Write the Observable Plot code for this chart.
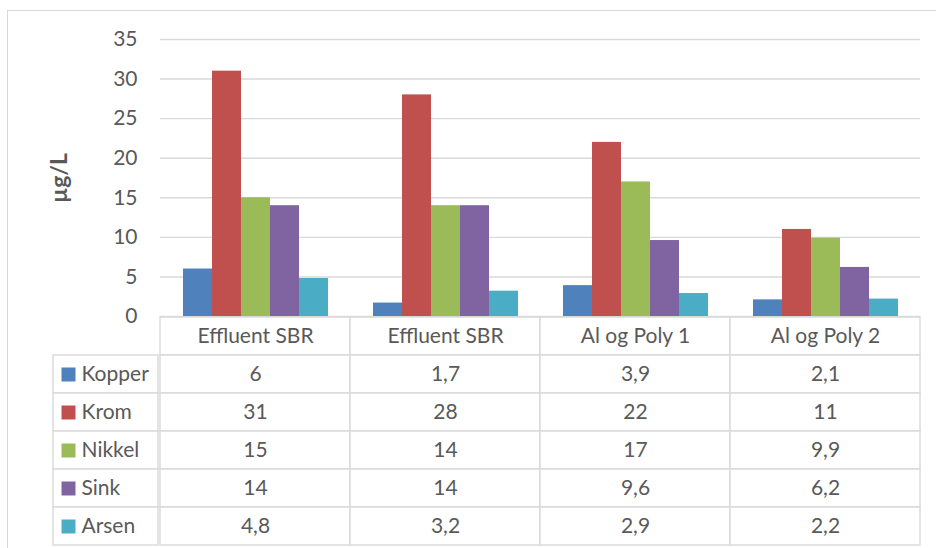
<!DOCTYPE html>
<html><head><meta charset="utf-8">
<script src="https://cdn.jsdelivr.net/npm/d3@7"></script>
<script src="https://cdn.jsdelivr.net/npm/@observablehq/plot@0.6"></script>
<style>
html,body{margin:0;padding:0;background:#fff;}
#wrap{position:relative;width:936px;height:548px;overflow:hidden;font-family:Lato,sans-serif;background:#fff;}
#border{position:absolute;left:7px;top:10px;width:960px;height:580px;border:1.3px solid #d9d9d9;}
#table{position:absolute;left:0;top:315px;display:flex;}
#chart{position:absolute;left:0;top:0;}
</style></head>
<body><div id="wrap"><div id="border"></div><div id="table"></div><div id="chart"></div></div>
<script>
// ---- data ----
const categories = ["Effluent SBR", "Effluent SBR", "Al og Poly 1", "Al og Poly 2"];
const series = ["Kopper", "Krom", "Nikkel", "Sink", "Arsen"];
const kopper = [6, 1.7, 3.9, 2.1];
const krom = [31, 28, 22, 11];
const nikkel = [15, 14, 17, 9.9];
const sink = [14, 14, 9.6, 6.2];
const arsen = [4.8, 3.2, 2.9, 2.2];
const colors = ["#4F81BD", "#C0504D", "#9BBB59", "#8064A2", "#4BACC6"];
const yTicks = [0, 5, 10, 15, 20, 25, 30, 35];
const yLabel = "µg/L";

const values = [kopper, krom, nikkel, sink, arsen];
const catKeys = categories.map((c, i) => i);
const rows = [];
series.forEach((s, si) => values[si].forEach((v, ci) => rows.push({series: s, cat: ci, value: v})));
const fmt = v => String(v).replace(".", ",");

const FONT = "Lato, sans-serif";
const TXT = "#595959";
const LINE = "#d9d9d9";
const baseStyle = {background: "transparent", overflow: "visible", fontFamily: FONT, fontSize: "21px", color: TXT};

// ---- bar chart ----
const chart = Plot.plot({
  width: 936, height: 340,
  marginTop: 39, marginBottom: 24, marginLeft: 158, marginRight: 15,
  style: baseStyle,
  fx: {domain: catKeys, padding: 0, axis: null},
  x: {domain: series, paddingInner: 0, paddingOuter: 0.72, axis: null},
  y: {domain: [0, 35]},
  color: {domain: series, range: colors},
  marks: [
    Plot.gridY(yTicks, {stroke: LINE, strokeOpacity: 1, strokeWidth: 1.4}),
    Plot.barY(rows, {fx: "cat", x: "series", y: "value", fill: "series"}),
    Plot.axisY(yTicks, {tickSize: 0, tickPadding: 23, fontSize: 21, label: yLabel, labelAnchor: "center", labelArrow: "none", labelOffset: 110})
  ]
});
chart.querySelectorAll('[aria-label="y-axis label"] text').forEach(t => {
  t.setAttribute("font-weight", "bold");
  t.setAttribute("font-size", "23px");
});
document.getElementById("chart").append(chart);

// ---- data table ----
const rowKeys = ["hdr", ...series];
const legendPlot = Plot.plot({
  width: 158, height: 233,
  marginTop: 1, marginBottom: 3, marginLeft: 53, marginRight: 0,
  style: baseStyle,
  y: {domain: rowKeys, padding: 0, axis: null},
  color: {domain: series, range: colors},
  marks: [
    Plot.cell(series, {y: d => d, fill: "white", stroke: LINE, strokeWidth: 1.4}),
    Plot.dot(series, {y: d => d, frameAnchor: "left", dx: 15, symbol: "square", r: 7.9, fill: d => d, stroke: "none"}),
    Plot.text(series, {y: d => d, frameAnchor: "left", dx: 28, textAnchor: "start", text: d => d, fontSize: 21})
  ]
});

const tableCells = [];
catKeys.forEach(ci => tableCells.push({cat: ci, row: "hdr", label: categories[ci]}));
series.forEach((s, si) => catKeys.forEach(ci => tableCells.push({cat: ci, row: s, label: fmt(values[si][ci])})));

const valuesPlot = Plot.plot({
  width: 778, height: 233,
  marginTop: 1, marginBottom: 3, marginLeft: 0, marginRight: 15,
  style: baseStyle,
  x: {domain: catKeys, padding: 0, axis: null},
  y: {domain: rowKeys, padding: 0, axis: null},
  marks: [
    Plot.cell(tableCells, {x: "cat", y: "row", fill: "white", stroke: LINE, strokeWidth: 1.4}),
    Plot.text(tableCells, {x: "cat", y: "row", text: "label", fontSize: 21})
  ]
});
document.getElementById("table").append(legendPlot, valuesPlot);
</script>
</body></html>
